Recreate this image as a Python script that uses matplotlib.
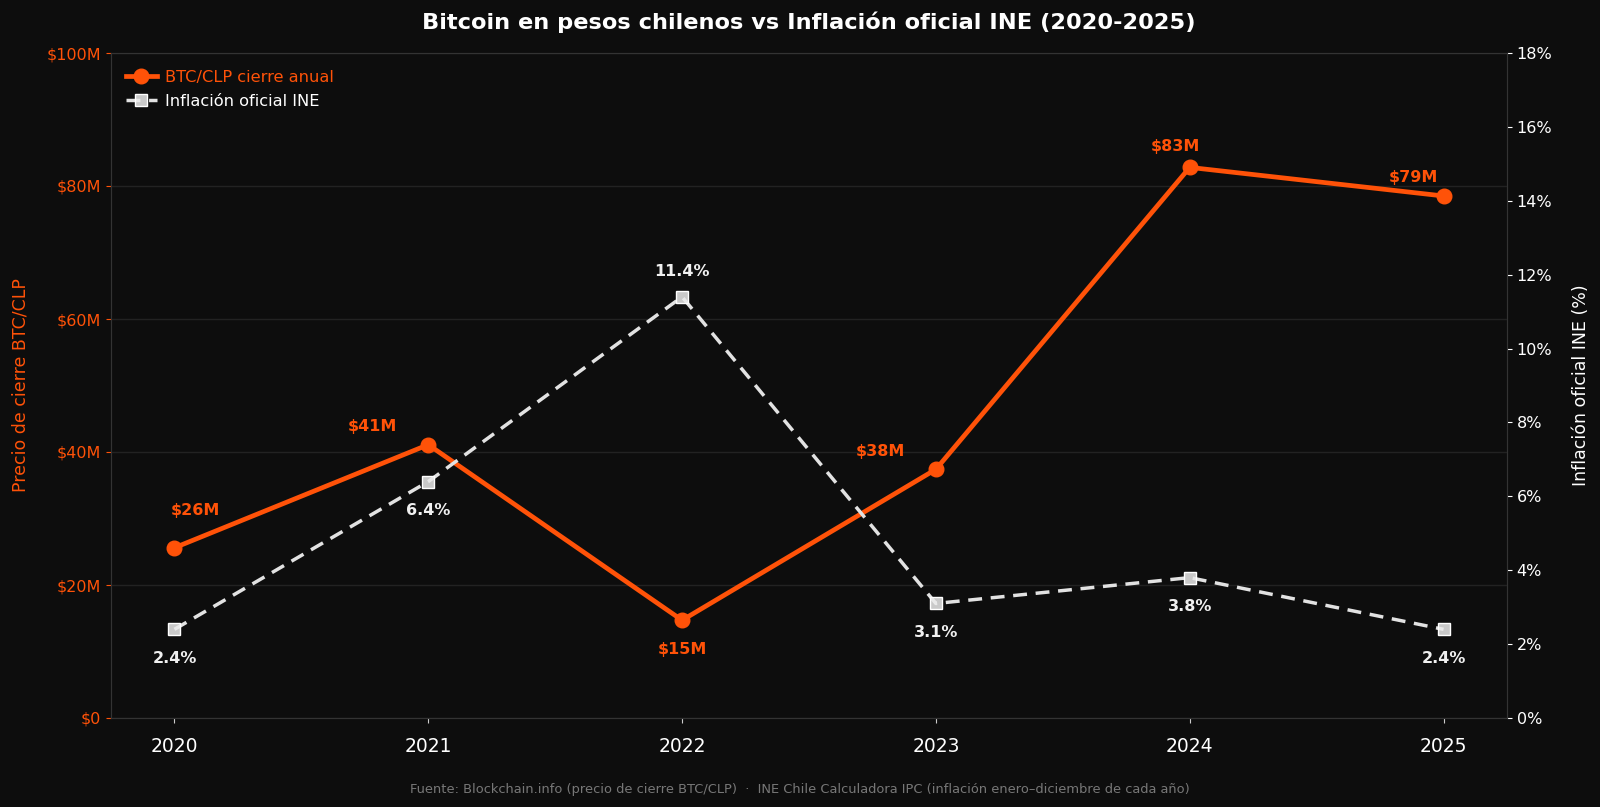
import matplotlib
matplotlib.use("Agg")
import matplotlib.pyplot as plt
from matplotlib.ticker import FuncFormatter

years = ["2020", "2021", "2022", "2023", "2024", "2025"]
btc_clp_millions = [25.6, 41.1, 14.7, 37.4, 82.8, 78.5]
btc_labels = ["$26M", "$41M", "$15M", "$38M", "$83M", "$79M"]
inflation_pct = [2.4, 6.4, 11.4, 3.1, 3.8, 2.4]
inflation_labels = ["2.4%", "6.4%", "11.4%", "3.1%", "3.8%", "2.4%"]

# label offsets (points) - styling only
btc_offsets = [(15, 27), (-40, 13), (0, -21), (-40, 13), (-10, 15), (-22, 13)]
inf_offsets = [(0, -21), (0, -21), (0, 18), (0, -21), (0, -21), (0, -21)]

BG = "#0d0d0d"
ORANGE = "#ff5208"
WHITE = "#e2e2e2"
GRID = "#222222"
SPINE = "#333333"

plt.rcParams['font.family'] = ['DejaVu Sans']
fig = plt.figure(figsize=(16, 8.07), dpi=100, facecolor=BG)
L, R, T, B = 111, 1507, 53, 718
ax = fig.add_axes([L/1600, 1-B/807, (R-L)/1600, (B-T)/807])
ax.set_facecolor(BG)
ax2 = ax.twinx()

x = list(range(len(years)))
l1, = ax.plot(x, btc_clp_millions, color=ORANGE, lw=3.4, marker="o", ms=10.5,
              label="BTC/CLP cierre anual", zorder=4)
l2, = ax2.plot(x, inflation_pct, color=WHITE, lw=2.5, ls=(0, (4, 2.5)), marker="s", ms=9,
               markerfacecolor=(0.92, 0.92, 0.92, 0.85), markeredgecolor="#ffffff",
               markeredgewidth=1, label="Inflación oficial INE", zorder=3)

for xi, v, t, off in zip(x, btc_clp_millions, btc_labels, btc_offsets):
    ax.annotate(t, (xi, v), xytext=off, textcoords="offset points", ha="center", va="center",
                color=ORANGE, fontsize=11.5, fontweight="bold")
for xi, v, t, off in zip(x, inflation_pct, inflation_labels, inf_offsets):
    ax2.annotate(t, (xi, v), xytext=off, textcoords="offset points", ha="center", va="center",
                 color="#f0f0f0", fontsize=11.5, fontweight="bold")

ax.set_xlim(-0.25, len(years) - 0.75)
ax.set_ylim(0, 100)
ax2.set_ylim(0, 18)
ax.set_yticks(range(0, 101, 20))
ax2.set_yticks(range(0, 19, 2))
ax.yaxis.set_major_formatter(FuncFormatter(lambda v, p: f"${int(v)}M" if v else "$0"))
ax2.yaxis.set_major_formatter(FuncFormatter(lambda v, p: f"{int(v)}%"))
ax.set_xticks(x)
ax.set_xticklabels(years)

ax.grid(axis="y", color=GRID, lw=1)
ax.set_axisbelow(True)
ax.tick_params(axis="x", colors="#cccccc", labelcolor="white", labelsize=13.5, pad=10)
ax.tick_params(axis="y", colors=ORANGE, labelcolor=ORANGE, labelsize=11.5)
ax2.tick_params(axis="y", colors="white", labelcolor="white", labelsize=11.5)
for a in (ax, ax2):
    for s in a.spines.values():
        s.set_color(SPINE)

ax.set_ylabel("Precio de cierre BTC/CLP", color=ORANGE, fontsize=12.5, labelpad=12)
ax2.set_ylabel("Inflación oficial INE (%)", color="white", fontsize=12.5, labelpad=14)

leg = ax.legend(handles=[l1, l2], loc="upper left", frameon=False, fontsize=11.7,
                bbox_to_anchor=(0.0, 0.997), labelspacing=0.55, handlelength=1.9,
                handletextpad=0.55)
for txt, c in zip(leg.get_texts(), [ORANGE, "white"]):
    txt.set_color(c)

ax.set_title("Bitcoin en pesos chilenos vs Inflación oficial INE (2020-2025)",
             color="white", fontsize=16.2, fontweight="bold", pad=17)
fig.text(0.5, 1-789/807,
         "Fuente: Blockchain.info (precio de cierre BTC/CLP)  ·  INE Chile Calculadora IPC (inflación enero–diciembre de cada año)",
         ha="center", va="center", color="#777777", fontsize=9.35)

fig.savefig("out.png", dpi=100, facecolor=BG)
